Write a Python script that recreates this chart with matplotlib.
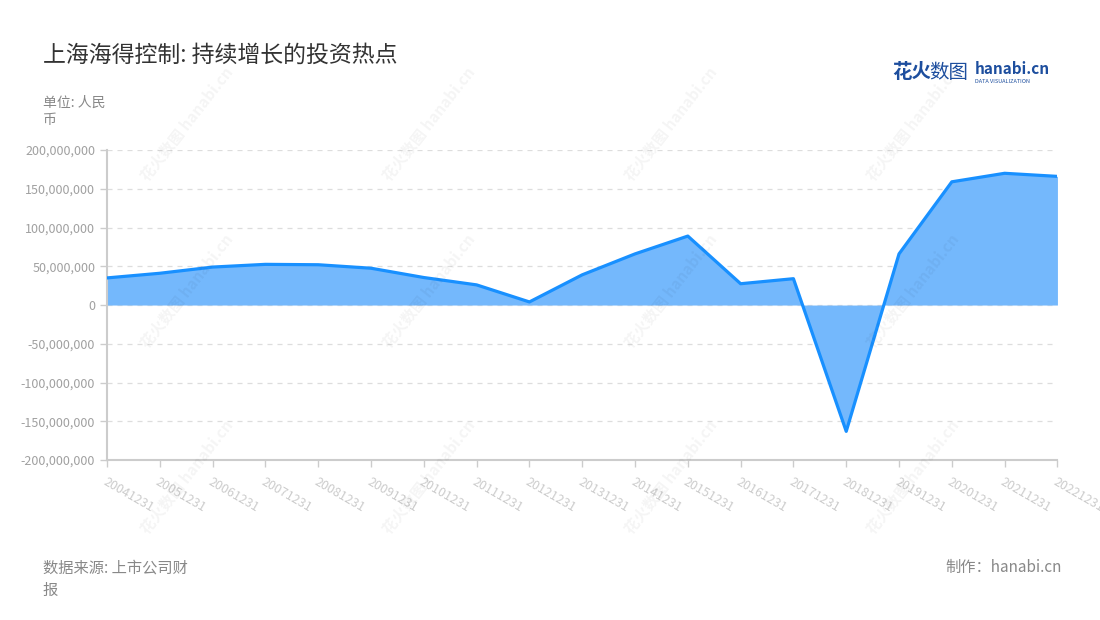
import matplotlib
matplotlib.use("Agg")
import matplotlib.pyplot as plt
from matplotlib.ticker import FuncFormatter

plt.rcParams['font.family'] = ['Noto Sans CJK SC', 'DejaVu Sans']

dates = ['20041231', '20051231', '20061231', '20071231', '20081231', '20091231',
         '20101231', '20111231', '20121231', '20131231', '20141231', '20151231',
         '20161231', '20171231', '20181231', '20191231', '20201231', '20211231',
         '20221231']
values = [35e6, 41e6, 49e6, 52.5e6, 52e6, 47.5e6, 35.5e6, 26e6, 4e6, 39e6,
          66e6, 89e6, 27.5e6, 34e6, -163e6, 66e6, 159e6, 170e6, 166e6]
yticks = [-200e6, -150e6, -100e6, -50e6, 0, 50e6, 100e6, 150e6, 200e6]

title = '上海海得控制: 持续增长的投资热点'
unit = '单位: 人民\n币'
source = '数据来源: 上市公司财\n报'
credit = '制作：hanabi.cn'


def main():
	fig = plt.figure(figsize=(11, 6.2), dpi=100)
	ax = fig.add_axes([0.0973, 0.258, 0.864, 0.5])

	x = list(range(len(dates)))
	ax.fill_between(x, values, 0, color='#74b8fc', linewidth=0, zorder=2)
	ax.plot(x, values, color='#1890ff', linewidth=2.3, zorder=3)

	ax.set_xlim(0, len(dates) - 1)
	ax.set_ylim(-200e6, 200e6)
	ax.set_yticks(yticks)
	ax.yaxis.set_major_formatter(FuncFormatter(lambda v, p: f'{int(v):,}'))
	ax.set_xticks(x)
	ax.set_xticklabels(dates, rotation=-30, ha='left', va='top',
		rotation_mode='anchor', color='#a8adbd', fontsize=9)
	ax.tick_params(axis='y', colors='#cccccc', labelcolor='#a0a0a0', labelsize=9,
		length=5, width=1)
	ax.tick_params(axis='x', colors='#cccccc', length=5, width=1, pad=6)

	ax.grid(axis='y', color='#dddddd', linestyle=(0, (4, 4)), linewidth=0.9, zorder=0)
	for s in ['top', 'right']:
		ax.spines[s].set_visible(False)
	for s in ['left', 'bottom']:
		ax.spines[s].set_color('#cccccc')
		ax.spines[s].set_linewidth(1.5)

	# watermark
	for wx in [0.17, 0.39, 0.61, 0.83]:
		for wy in [0.8, 0.53, 0.23]:
			fig.text(wx, wy, '花火数图 hanabi.cn', fontsize=11, color='#000000',
				alpha=0.045, rotation=52, ha='center', va='center', fontweight='bold')

	fig.text(0.039, 0.911, title, fontsize=16.5, color='#333333', va='center')
	fig.text(0.039, 0.845, unit, fontsize=10, color='#888888', va='top', linespacing=1.3)
	fig.text(0.039, 0.098, source, fontsize=11, color='#888888', va='top', linespacing=1.4)
	fig.text(0.965, 0.098, credit, fontsize=11, color='#888888', va='top', ha='right')

	# logo
	fig.text(0.811, 0.883, '花火', fontsize=14, color='#1d4e9e', fontweight='bold', va='center')
	fig.text(0.8445, 0.883, '数图', fontsize=14, color='#1d4e9e', va='center')
	fig.text(0.886, 0.889, 'hanabi.cn', fontsize=11, color='#1d4e9e', fontweight='bold', va='center')
	fig.text(0.886, 0.869, 'DATA VISUALIZATION', fontsize=4, color='#1d4e9e', va='center')

	fig.savefig('out.png', dpi=100)


if __name__ == "__main__":
	main()
